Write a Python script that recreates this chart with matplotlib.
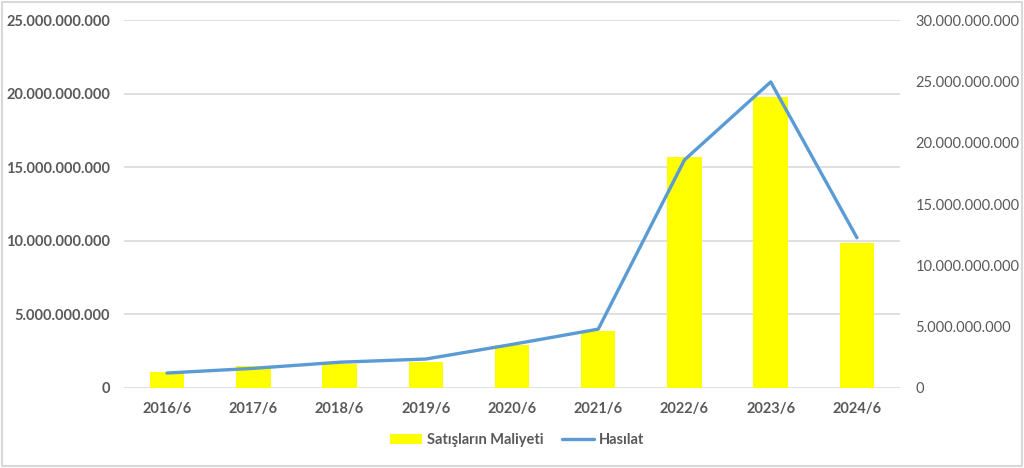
import matplotlib.pyplot as plt
from matplotlib.patches import Rectangle
from matplotlib.ticker import FuncFormatter
import numpy as np

plt.rcParams['font.family'] = ['Lato', 'DejaVu Sans']

periods = ["2016/6", "2017/6", "2018/6", "2019/6", "2020/6",
           "2021/6", "2022/6", "2023/6", "2024/6"]
# Satışların Maliyeti (left axis)
cost = [1.11e9, 1.49e9, 1.65e9, 1.77e9, 2.94e9, 3.87e9, 15.7e9, 19.75e9, 9.83e9]
# Hasılat (right axis)
revenue = [1.22e9, 1.6e9, 2.1e9, 2.36e9, 3.55e9, 4.8e9, 18.6e9, 24.96e9, 12.25e9]


def dotted(v, pos):
    return f"{int(round(v)):,}".replace(",", ".")


def main():
    fig = plt.figure(figsize=(10.24, 4.68), dpi=100)
    ax = fig.add_axes([0.121, 0.171, 0.758, 0.786])
    ax2 = ax.twinx()

    x = np.arange(len(periods))
    bars = ax.bar(x, cost, width=0.4, color="#FFFF00", label="Satışların Maliyeti", zorder=2)
    line, = ax2.plot(x, revenue, color="#5B9BD5", lw=2.4, label="Hasılat",
                     solid_capstyle="round", zorder=3)

    ax.set_xlim(-0.5, len(periods) - 0.5)
    ax.set_ylim(0, 25e9)
    ax2.set_ylim(0, 30e9)
    ax.set_yticks(np.arange(0, 25.1e9, 5e9))
    ax2.set_yticks(np.arange(0, 30.1e9, 5e9))
    ax.yaxis.set_major_formatter(FuncFormatter(dotted))
    ax2.yaxis.set_major_formatter(FuncFormatter(dotted))

    ax.grid(axis="y", color="#D9D9D9", lw=1.2, zorder=0)
    ax.set_axisbelow(True)
    for a in (ax, ax2):
        for s in a.spines.values():
            s.set_visible(False)
        a.tick_params(length=0)

    ax.set_xticks(x)
    ax.set_xticklabels(periods, fontsize=10.5, fontweight="bold", color="#595959")
    ax.tick_params(axis="x", pad=10)
    for t in ax.get_yticklabels():
        t.set_fontsize(10.5)
        t.set_fontweight("bold")
        t.set_color("#595959")
    ax.tick_params(axis="y", pad=10)
    for t in ax2.get_yticklabels():
        t.set_fontsize(10.5)
        t.set_color("#595959")
    ax2.tick_params(axis="y", pad=11)

    fig.legend([bars, line], ["Satışların Maliyeti", "Hasılat"], loc="center",
               bbox_to_anchor=(0.505, 0.06), ncol=2, frameon=False,
               prop={"size": 10.5, "weight": "bold"}, labelcolor="#595959",
               handlelength=2.2, handletextpad=0.3, columnspacing=1.3)

    fig.patches.append(Rectangle((0.002, 0.004), 0.996, 0.992, transform=fig.transFigure,
                                 fill=False, edgecolor="#D9D9D9", lw=1.5))

    fig.savefig("out.png", dpi=100)


if __name__ == "__main__":
    main()
